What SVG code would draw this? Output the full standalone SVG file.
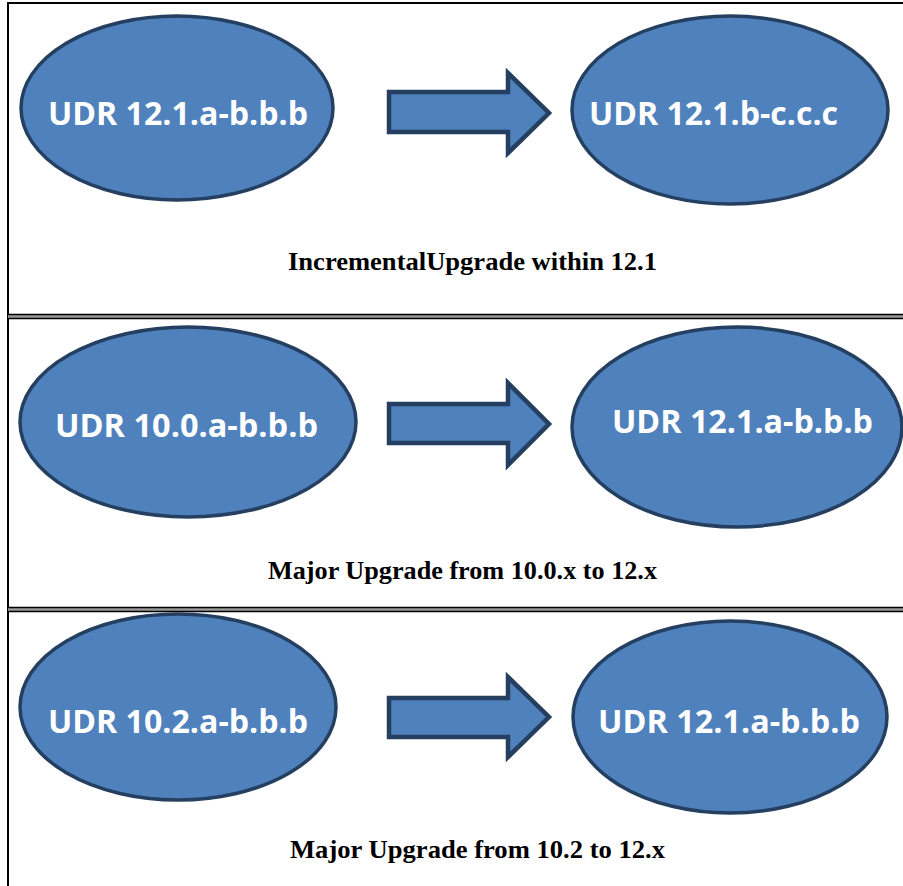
<svg xmlns="http://www.w3.org/2000/svg" width="903" height="886" viewBox="0 0 903 886">
<style>
.node ellipse{fill:#4F81BD;stroke:#243F60;stroke-width:3.5}
.node text{font-family:"Open Sans","Liberation Sans",sans-serif;font-weight:bold;font-size:32px;fill:#FFFFFF}
.arrow{fill:#4F81BD;stroke:#243F60;stroke-width:4.5;stroke-linejoin:miter}
.cap{font-family:"Liberation Serif","Times New Roman",serif;font-weight:bold;font-size:25px;fill:#000}
.frame{stroke:#000;stroke-width:2;fill:none}
.sep{stroke:#000;stroke-width:1.5}
.sepfill{fill:#9a9a9a}
</style>
<rect width="903" height="886" fill="#fff"/>
<g id="frame">
<line class="frame" x1="8" y1="3" x2="903" y2="3"/>
<line class="frame" x1="8" y1="2" x2="8" y2="886"/>
<rect class="sepfill" x="8" y="315" width="895" height="3"/>
<line class="sep" x1="8" y1="314.5" x2="903" y2="314.5"/>
<line class="sep" x1="8" y1="318.5" x2="903" y2="318.5"/>
<rect class="sepfill" x="8" y="608" width="895" height="3"/>
<line class="sep" x1="8" y1="607.5" x2="903" y2="607.5"/>
<line class="sep" x1="8" y1="611.5" x2="903" y2="611.5"/>
</g>
<g id="n1" class="node"><ellipse cx="177" cy="108" rx="156" ry="92"/><text x="48" y="125" textLength="260" lengthAdjust="spacingAndGlyphs">UDR 12.1.a-b.b.b</text></g>
<g id="n2" class="node"><ellipse cx="730" cy="110" rx="158" ry="94"/><text x="589" y="125" textLength="249" lengthAdjust="spacingAndGlyphs">UDR 12.1.b-c.c.c</text></g>
<g id="n3" class="node"><ellipse cx="188" cy="422" rx="168" ry="95"/><text x="55" y="437" textLength="263" lengthAdjust="spacingAndGlyphs">UDR 10.0.a-b.b.b</text></g>
<g id="n4" class="node"><ellipse cx="737" cy="427" rx="165" ry="100"/><text x="612" y="433" textLength="261" lengthAdjust="spacingAndGlyphs">UDR 12.1.a-b.b.b</text></g>
<g id="n5" class="node"><ellipse cx="178" cy="707" rx="158" ry="93"/><text x="48" y="733" textLength="260" lengthAdjust="spacingAndGlyphs">UDR 10.2.a-b.b.b</text></g>
<g id="n6" class="node"><ellipse cx="730" cy="717" rx="157" ry="96"/><text x="598" y="733" textLength="262" lengthAdjust="spacingAndGlyphs">UDR 12.1.a-b.b.b</text></g>
<g id="connectors">
<polygon class="arrow" points="389,92 508,92 508,73 549,113 508,153 508,132 389,132"/>
<polygon class="arrow" points="389,404 508,404 508,383 549,424 508,465 508,443 389,443"/>
<polygon class="arrow" points="389,698 508,698 508,677 549,717 508,757 508,737 389,737"/>
</g>
<g id="captions">
<text class="cap" x="288" y="270" textLength="369" lengthAdjust="spacingAndGlyphs">IncrementalUpgrade within 12.1</text>
<text class="cap" x="268" y="579" textLength="389" lengthAdjust="spacingAndGlyphs">Major Upgrade from 10.0.x to 12.x</text>
<text class="cap" x="290" y="858" textLength="375" lengthAdjust="spacingAndGlyphs">Major Upgrade from 10.2 to 12.x</text>
</g>
</svg>
